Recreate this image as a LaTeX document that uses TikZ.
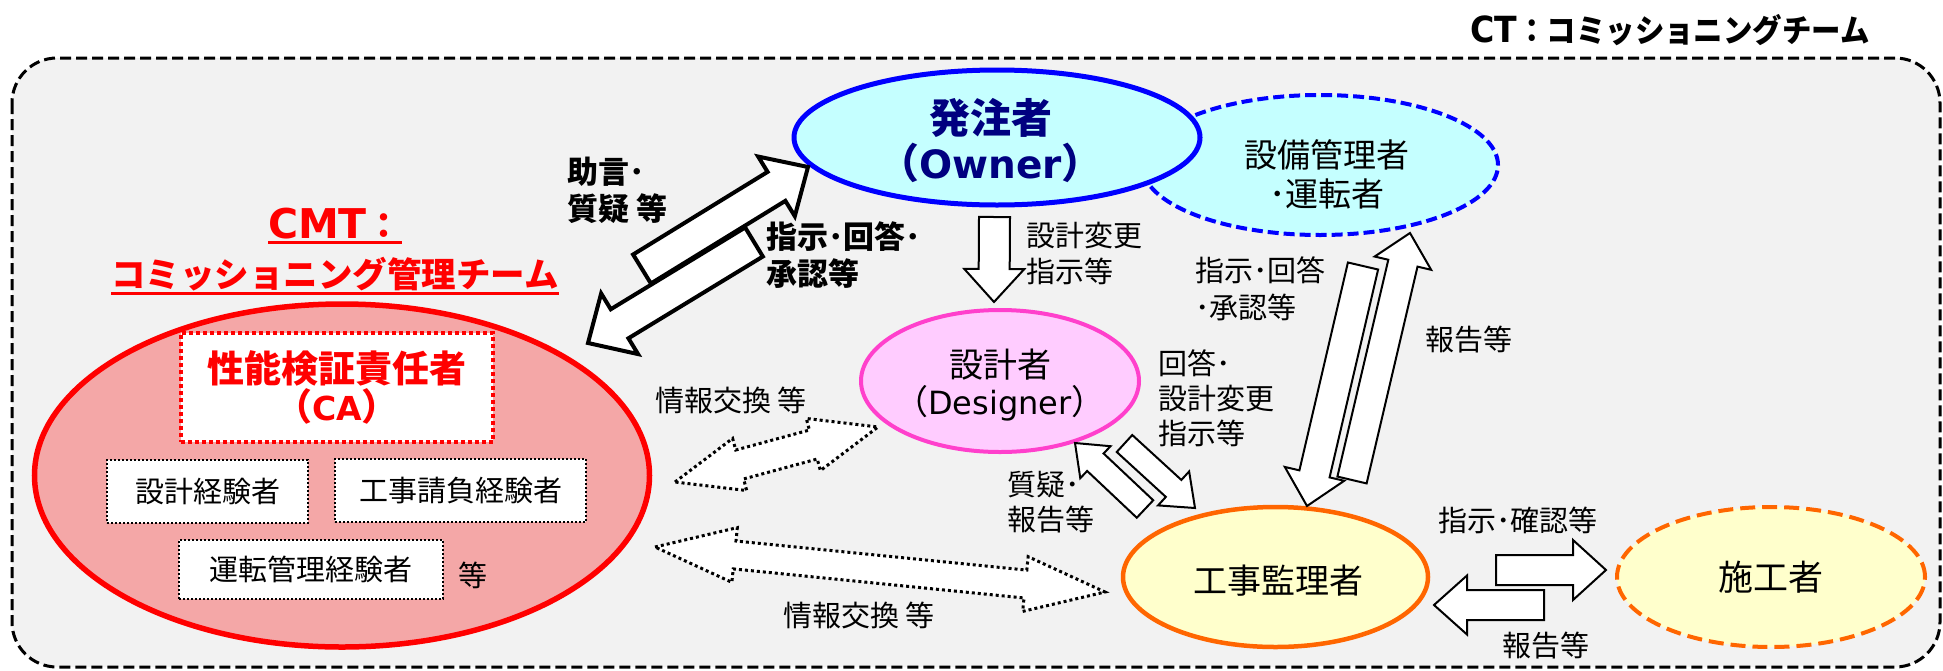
\documentclass[tikz,border=0pt]{standalone}
\usepackage{graphicx}
\usepackage{fontspec}
\setmainfont{Noto Sans CJK JP}
\newfontfamily\lat{DejaVu Sans}
\usetikzlibrary{shapes.geometric,calc}
\definecolor{bgg}{HTML}{F2F2F2}
\definecolor{navy}{HTML}{000080}
\definecolor{cyanf}{HTML}{C5FFFF}
\definecolor{pinkb}{HTML}{FF40CC}
\definecolor{pinkf}{HTML}{FFCCFF}
\definecolor{orng}{HTML}{FF6600}
\definecolor{yelf}{HTML}{FFFFCC}
\definecolor{cmtfill}{HTML}{F4A7A7}
\newcommand\FatArrow[6]{%
  \coordinate (fa-hb) at ($(#3)!#6!(#2)$);
  \draw[#1] ($(#2)!#4!90:(#3)$) -- ($(fa-hb)!#4!90:(#3)$) -- ($(fa-hb)!#5!90:(#3)$) -- (#3)
    -- ($(fa-hb)!#5!-90:(#3)$) -- ($(fa-hb)!#4!-90:(#3)$) -- ($(#2)!#4!-90:(#3)$) -- cycle;
}
\newcommand\DblArrow[6]{%
  \coordinate (da-a) at ($(#2)!#6!(#3)$);
  \coordinate (da-b) at ($(#3)!#6!(#2)$);
  \draw[#1] (#2) -- ($(da-a)!#5!90:(#3)$) -- ($(da-a)!#4!90:(#3)$) -- ($(da-b)!#4!-90:(#2)$)
    -- ($(da-b)!#5!-90:(#2)$) -- (#3) -- ($(da-b)!#5!90:(#2)$) -- ($(da-b)!#4!90:(#2)$)
    -- ($(da-a)!#4!-90:(#3)$) -- ($(da-a)!#5!-90:(#3)$) -- cycle;
}
\begin{document}
\begin{tikzpicture}[x=1pt,y=-1pt,
  every node/.style={inner sep=0pt, outer sep=0pt},
  frame/.style={draw=black, fill=bgg, line width=3pt, dash pattern=on 11pt off 5pt, rounded corners=45pt},
  ell/.style={ellipse, inner sep=0pt},
  lbl/.style={font=\fontsize{29}{36}\selectfont, align=left, anchor=west},
  blbl/.style={font=\bfseries\fontsize{31}{37}\selectfont, align=left, anchor=west},
  xpbox/.style={draw=black, fill=white, line width=2pt, dash pattern=on 2pt off 2pt, font=\fontsize{29}{34}\selectfont},
  farrow/.style={draw=black, fill=white, line width=2pt},
  barrow/.style={draw=black, fill=white, line width=4pt},
  darrow/.style={draw=black, fill=white, line width=3pt, dash pattern=on 3pt off 3pt},
]
\useasboundingbox (0,0) rectangle (1943,670);
% frame
\draw[frame] (12,58) rectangle (1940,667);
\node[anchor=base, font=\bfseries\fontsize{32}{36}\selectfont] (ct) at (1670,42)
  {\scalebox{0.92}[1]{{\lat\fontsize{36}{36}\selectfont CT}：コミッショニングチーム}};

% CMT
\node[ell, draw=red, fill=cmtfill, line width=5.5pt, minimum width=615pt, minimum height=343pt] (cmt) at (342,475.5) {};
\node[draw=red, fill=white, line width=4pt, dash pattern=on 4pt off 3pt, minimum width=312pt, minimum height=109pt,
  align=center, text=red, font=\bfseries\fontsize{37}{38}\selectfont] (ca) at (337,387.5)
  {性能検証責任者\\（{\lat\fontsize{33}{38}\selectfont CA}）};
\node[xpbox, minimum width=201pt, minimum height=63pt] (b1) at (207.5,491.5) {設計経験者};
\node[xpbox, minimum width=251pt, minimum height=63pt] (b2) at (460.5,490.5) {工事請負経験者};
\node[xpbox, minimum width=264pt, minimum height=59pt] (b3) at (311,569.5) {運転管理経験者};
\node[font=\fontsize{29}{34}\selectfont] (tou) at (472.5,575.5) {等};

\node[anchor=base, text=red, font=\bfseries\fontsize{35}{40}\selectfont] (cmt1) at (335,238) {{\lat\fontsize{41}{40}\selectfont CMT}：};
\node[anchor=base, text=red, font=\bfseries\fontsize{34.5}{40}\selectfont] (cmt2) at (335,287.5) {コミッショニング管理チーム};
\draw[red, line width=3pt] ($(cmt1.base west)+(0,4)$) -- ($(cmt1.base east)+(0,4)$);
\draw[red, line width=3pt] ($(cmt2.base west)+(0,5.5)$) -- ($(cmt2.base east)+(0,5.5)$);

% ellipses
\node[ell, draw=blue, fill=cyanf, line width=4pt, dash pattern=on 11pt off 5pt, minimum width=356pt, minimum height=140pt] (fm) at (1320,165) {};
\node[align=center, font=\fontsize{33}{39}\selectfont] (fm-t) at (1327,174) {設備管理者\\･運転者};
\node[ell, draw=blue, fill=cyanf, line width=5pt, minimum width=406pt, minimum height=135pt] (owner) at (997,137.5) {};
\node[align=center, text=navy, font=\bfseries\fontsize{41}{45}\selectfont] (owner-t) at (990.5,141)
  {発注者\\（{\lat\fontsize{39}{45}\selectfont Owner}）};
\node[ell, draw=pinkb, fill=pinkf, line width=4pt, minimum width=278pt, minimum height=142pt] (designer) at (1000,381) {};
\node[align=center, font=\fontsize{34}{37}\selectfont] (designer-t) at (1000,385.5)
  {設計者\\（{\lat\fontsize{32}{37}\selectfont Designer}）};
\node[ell, draw=orng, fill=yelf, line width=4.5pt, minimum width=305pt, minimum height=140pt] (kanri) at (1275.5,577) {};
\node[font=\fontsize{34}{40}\selectfont] (kanri-t) at (1278,581) {工事監理者};
\node[ell, draw=orng, fill=yelf, line width=4pt, dash pattern=on 15pt off 7pt, minimum width=308pt, minimum height=140pt] (sekou) at (1771,577) {};
\node[font=\fontsize{35}{40}\selectfont] (sekou-t) at (1771,577) {施工者};

% arrow end points
\coordinate (a1s) at (994.5,217);  \coordinate (a1e) at (994,302);
\coordinate (a2s) at (642,269);    \coordinate (a2e) at (808,167);
\coordinate (a3s) at (754,242);    \coordinate (a3e) at (588,343);
\coordinate (a4s) at (1363,266);   \coordinate (a4e) at (1307,506);
\coordinate (a5s) at (1352,480);   \coordinate (a5e) at (1410,233);
\coordinate (a6s) at (1145,509);   \coordinate (a6e) at (1075,443);
\coordinate (a7s) at (1124.5,443.5); \coordinate (a7e) at (1195,508);
\coordinate (a8s) at (1496,570);   \coordinate (a8e) at (1606,570);
\coordinate (a9s) at (1544,605);   \coordinate (a9e) at (1434,605);
\coordinate (d1a) at (675,482);    \coordinate (d1b) at (878,427);
\coordinate (d2a) at (655,547);    \coordinate (d2b) at (1105,592);

\FatArrow{farrow}{a1s}{a1e}{15.5pt}{30pt}{33pt}
\FatArrow{barrow}{a2s}{a2e}{17pt}{35pt}{37pt}
\FatArrow{barrow}{a3s}{a3e}{17pt}{35.5pt}{37pt}
\FatArrow{farrow}{a4s}{a4e}{15.5pt}{30.5pt}{33pt}
\FatArrow{farrow}{a5s}{a5e}{15pt}{29pt}{31pt}
\FatArrow{farrow}{a6s}{a6e}{12pt}{22pt}{28pt}
\FatArrow{farrow}{a7s}{a7e}{11.5pt}{23pt}{29pt}
\FatArrow{farrow}{a8s}{a8e}{15pt}{30pt}{33pt}
\FatArrow{farrow}{a9s}{a9e}{15pt}{29.5pt}{33pt}
\DblArrow{darrow}{d1a}{d1b}{15pt}{27pt}{67pt}
\DblArrow{darrow}{d2a}{d2b}{14pt}{27.5pt}{80pt}

% labels
\node[blbl] (l-jogen) at (567,190) {助言･\\質疑 等};
\node[blbl] (l-shiji1) at (766,255) {指示･回答･\\承認等};
\node[lbl] (l-henkou) at (1026,253.5) {設計変更\\指示等};
\node[lbl, font=\fontsize{29}{37}\selectfont] (l-shiji2) at (1195,289) {指示･回答\\･承認等};
\node[lbl] (l-hou1) at (1425,339.5) {報告等};
\node[lbl, font=\fontsize{29}{35}\selectfont] (l-kaitou) at (1158,398.5) {回答･\\設計変更\\指示等};
\node[lbl, font=\fontsize{29}{35}\selectfont] (l-shitsugi) at (1007,502.5) {質疑･\\報告等};
\node[lbl] (l-jou1) at (655,400.5) {情報交換 等};
\node[lbl] (l-jou2) at (783,615.5) {情報交換 等};
\node[lbl] (l-kakunin) at (1438,520.5) {指示･確認等};
\node[lbl] (l-hou2) at (1502,645.5) {報告等};
\end{tikzpicture}
\end{document}
